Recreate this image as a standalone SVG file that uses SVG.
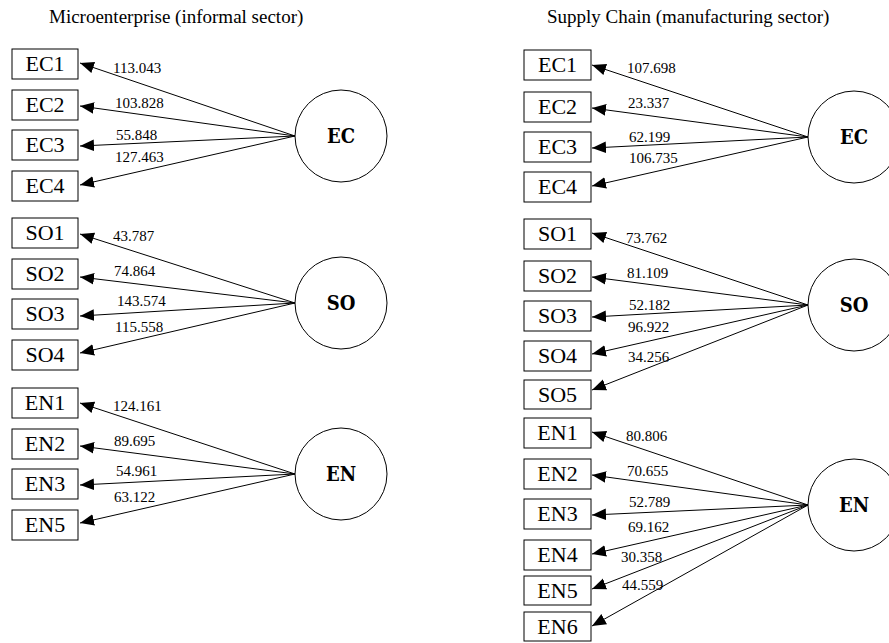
<svg xmlns="http://www.w3.org/2000/svg" width="889" height="643" viewBox="0 0 889 643">
<style>
.bg{fill:#fff}
.box{fill:#fff;stroke:#000;stroke-width:1}
.lat{fill:#fff;stroke:#000;stroke-width:1}
.bt{font-family:"Liberation Serif","Times New Roman",serif;font-size:22px;text-anchor:middle;fill:#000}
.lt{font-family:"DejaVu Serif","Liberation Serif",serif;font-weight:bold;font-size:20px;text-anchor:middle;fill:#000;font-stretch:condensed}
.el{font-family:"Liberation Serif","Times New Roman",serif;font-size:15px;fill:#000}
.tt{font-family:"Liberation Serif","Times New Roman",serif;font-size:19px;fill:#000}
.e{stroke:#000;stroke-width:1;fill:none;marker-end:url(#ah)}
</style>
<defs>
<marker id="ah" markerUnits="userSpaceOnUse" markerWidth="14" markerHeight="12" refX="12" refY="5" orient="auto" viewBox="0 0 12 10">
<path d="M0,0 L12,5 L0,10 Z" fill="#000"/>
</marker>
</defs>
<rect class="bg" x="0" y="0" width="889" height="643"/>
<text class="tt" x="49" y="23">Microenterprise (informal sector)</text>
<text class="tt" x="547" y="23">Supply Chain (manufacturing sector)</text>

<g id="connectors">
<line class="e" x1="295" y1="136" x2="80" y2="63"/>
<line class="e" x1="295" y1="136" x2="80" y2="106"/>
<line class="e" x1="295" y1="136" x2="80" y2="146"/>
<line class="e" x1="295" y1="136" x2="80" y2="185"/>
<line class="e" x1="295" y1="303" x2="80" y2="234"/>
<line class="e" x1="295" y1="303" x2="80" y2="277"/>
<line class="e" x1="295" y1="303" x2="80" y2="316"/>
<line class="e" x1="295" y1="303" x2="80" y2="353"/>
<line class="e" x1="295" y1="474" x2="80" y2="403"/>
<line class="e" x1="295" y1="474" x2="80" y2="446"/>
<line class="e" x1="295" y1="474" x2="80" y2="485"/>
<line class="e" x1="295" y1="474" x2="80" y2="523"/>
<line class="e" x1="808" y1="137" x2="592" y2="65"/>
<line class="e" x1="808" y1="137" x2="592" y2="108"/>
<line class="e" x1="808" y1="137" x2="592" y2="148"/>
<line class="e" x1="808" y1="137" x2="592" y2="186"/>
<line class="e" x1="808" y1="305" x2="592" y2="233"/>
<line class="e" x1="808" y1="305" x2="592" y2="277"/>
<line class="e" x1="808" y1="305" x2="592" y2="317"/>
<line class="e" x1="808" y1="305" x2="592" y2="354"/>
<line class="e" x1="808" y1="305" x2="592" y2="390"/>
<line class="e" x1="808" y1="505" x2="592" y2="432"/>
<line class="e" x1="808" y1="505" x2="592" y2="475"/>
<line class="e" x1="808" y1="505" x2="592" y2="515"/>
<line class="e" x1="808" y1="505" x2="592" y2="554"/>
<line class="e" x1="808" y1="505" x2="592" y2="589"/>
<line class="e" x1="808" y1="505" x2="592" y2="626"/>
<text class="el" x="113" y="73">113.043</text>
<text class="el" x="115" y="108">103.828</text>
<text class="el" x="116" y="140">55.848</text>
<text class="el" x="115" y="162">127.463</text>
<text class="el" x="113" y="241">43.787</text>
<text class="el" x="114" y="276">74.864</text>
<text class="el" x="117" y="306">143.574</text>
<text class="el" x="115" y="332">115.558</text>
<text class="el" x="113" y="411">124.161</text>
<text class="el" x="114" y="446">89.695</text>
<text class="el" x="116" y="476">54.961</text>
<text class="el" x="114" y="502">63.122</text>
<text class="el" x="627" y="73">107.698</text>
<text class="el" x="628" y="108">23.337</text>
<text class="el" x="629" y="142">62.199</text>
<text class="el" x="629" y="163">106.735</text>
<text class="el" x="626" y="243">73.762</text>
<text class="el" x="627" y="278">81.109</text>
<text class="el" x="629" y="310">52.182</text>
<text class="el" x="628" y="332">96.922</text>
<text class="el" x="628" y="362">34.256</text>
<text class="el" x="626" y="441">80.806</text>
<text class="el" x="627" y="476">70.655</text>
<text class="el" x="629" y="507">52.789</text>
<text class="el" x="628" y="532">69.162</text>
<text class="el" x="621" y="562">30.358</text>
<text class="el" x="622" y="590">44.559</text>
</g>

<g id="L-EC"><circle class="lat" cx="341" cy="136" r="46"/><text class="lt" x="341" y="143">EC</text></g>
<g id="L-SO"><circle class="lat" cx="341" cy="303" r="46"/><text class="lt" x="341" y="310">SO</text></g>
<g id="L-EN"><circle class="lat" cx="341" cy="474" r="46"/><text class="lt" x="341" y="481">EN</text></g>
<g id="R-EC"><circle class="lat" cx="854" cy="137" r="46"/><text class="lt" x="854" y="144">EC</text></g>
<g id="R-SO"><circle class="lat" cx="854" cy="305" r="46"/><text class="lt" x="854" y="312">SO</text></g>
<g id="R-EN"><circle class="lat" cx="854" cy="505" r="46"/><text class="lt" x="854" y="512">EN</text></g>

<g id="L-EC1"><rect class="box" x="12" y="49" width="66" height="30"/><text class="bt" x="45" y="71">EC1</text></g>
<g id="L-EC2"><rect class="box" x="12" y="90" width="66" height="30"/><text class="bt" x="45" y="112">EC2</text></g>
<g id="L-EC3"><rect class="box" x="12" y="130" width="66" height="30"/><text class="bt" x="45" y="152">EC3</text></g>
<g id="L-EC4"><rect class="box" x="12" y="171" width="66" height="30"/><text class="bt" x="45" y="193">EC4</text></g>
<g id="L-SO1"><rect class="box" x="12" y="218" width="66" height="30"/><text class="bt" x="45" y="240">SO1</text></g>
<g id="L-SO2"><rect class="box" x="12" y="259" width="66" height="30"/><text class="bt" x="45" y="281">SO2</text></g>
<g id="L-SO3"><rect class="box" x="12" y="299" width="66" height="30"/><text class="bt" x="45" y="321">SO3</text></g>
<g id="L-SO4"><rect class="box" x="12" y="340" width="66" height="30"/><text class="bt" x="45" y="362">SO4</text></g>
<g id="L-EN1"><rect class="box" x="12" y="388" width="66" height="30"/><text class="bt" x="45" y="410">EN1</text></g>
<g id="L-EN2"><rect class="box" x="12" y="429" width="66" height="30"/><text class="bt" x="45" y="451">EN2</text></g>
<g id="L-EN3"><rect class="box" x="12" y="469" width="66" height="30"/><text class="bt" x="45" y="491">EN3</text></g>
<g id="L-EN5"><rect class="box" x="12" y="510" width="66" height="30"/><text class="bt" x="45" y="532">EN5</text></g>

<g id="R-EC1"><rect class="box" x="524" y="50" width="67" height="30"/><text class="bt" x="557.5" y="72">EC1</text></g>
<g id="R-EC2"><rect class="box" x="524" y="92" width="67" height="30"/><text class="bt" x="557.5" y="114">EC2</text></g>
<g id="R-EC3"><rect class="box" x="524" y="132" width="67" height="30"/><text class="bt" x="557.5" y="154">EC3</text></g>
<g id="R-EC4"><rect class="box" x="524" y="172" width="67" height="30"/><text class="bt" x="557.5" y="194">EC4</text></g>
<g id="R-SO1"><rect class="box" x="524" y="219" width="67" height="30"/><text class="bt" x="557.5" y="241">SO1</text></g>
<g id="R-SO2"><rect class="box" x="524" y="261" width="67" height="30"/><text class="bt" x="557.5" y="283">SO2</text></g>
<g id="R-SO3"><rect class="box" x="524" y="301" width="67" height="30"/><text class="bt" x="557.5" y="323">SO3</text></g>
<g id="R-SO4"><rect class="box" x="524" y="341" width="67" height="30"/><text class="bt" x="557.5" y="363">SO4</text></g>
<g id="R-SO5"><rect class="box" x="524" y="380" width="67" height="29"/><text class="bt" x="557.5" y="402">SO5</text></g>
<g id="R-EN1"><rect class="box" x="524" y="418" width="67" height="30"/><text class="bt" x="557.5" y="440">EN1</text></g>
<g id="R-EN2"><rect class="box" x="524" y="459" width="67" height="30"/><text class="bt" x="557.5" y="481">EN2</text></g>
<g id="R-EN3"><rect class="box" x="524" y="499" width="67" height="30"/><text class="bt" x="557.5" y="521">EN3</text></g>
<g id="R-EN4"><rect class="box" x="524" y="540" width="67" height="30"/><text class="bt" x="557.5" y="562">EN4</text></g>
<g id="R-EN5"><rect class="box" x="524" y="576" width="67" height="29"/><text class="bt" x="557.5" y="598">EN5</text></g>
<g id="R-EN6"><rect class="box" x="524" y="612" width="67" height="29"/><text class="bt" x="557.5" y="634">EN6</text></g>
</svg>
